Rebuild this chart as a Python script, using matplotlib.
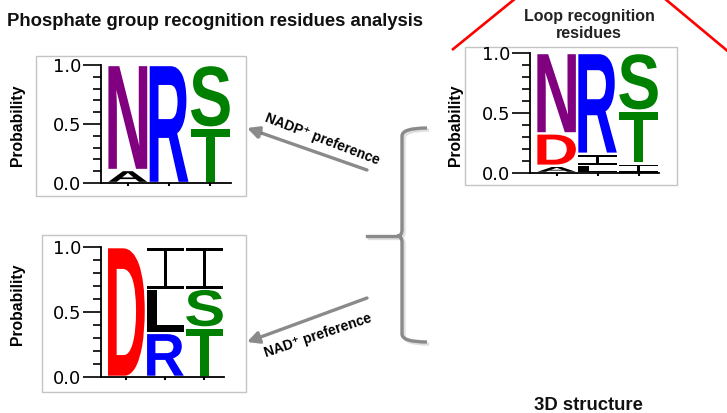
import numpy as np
import matplotlib
matplotlib.use("Agg")
import matplotlib.pyplot as plt
import matplotlib.patheffects as pe
from matplotlib.textpath import TextPath
from matplotlib.font_manager import FontProperties
from matplotlib.patches import PathPatch, Rectangle, FancyArrowPatch
from matplotlib.path import Path
from matplotlib.transforms import Affine2D

W, H = 727, 413

# residue positions and per-position probabilities (stacked bottom -> top)
positions = [1, 2, 3]

nadp_letters = [["A", "N"], ["R"], ["T", "S"]]
nadp_probs = [[0.11, 0.89], [1.0], [0.47, 0.53]]

nad_letters = [["D"], ["R", "L", "I"], ["T", "S", "I"]]
nad_probs = [[1.0], [0.34, 0.34, 0.32], [0.38, 0.30, 0.32]]

loop_letters = [["A", "D", "N"], ["L", "I", "R"], ["I", "T", "S"]]
loop_probs = [[0.06, 0.27, 0.67], [0.07, 0.09, 0.84], [0.08, 0.44, 0.48]]

ytick_values = [0.0, 0.5, 1.0]
ytick_labels = ["0.0", "0.5", "1.0"]

residue_colors = {
    "N": "#800080", "R": "#0000ff", "S": "#008000", "T": "#008000",
    "D": "#ff0000", "A": "#000000", "L": "#000000", "I": "#000000",
}

plt.rcParams["font.family"] = ["DejaVu Sans"]
bold = dict(family=["Liberation Sans", "DejaVu Sans"], weight="bold")
letter_font = FontProperties(family="Liberation Sans", weight="bold")


def px_axes(fig, x0, y0, x1, y1):
    return fig.add_axes([x0 / W, 1 - y1 / H, (x1 - x0) / W, (y1 - y0) / H])


def glyph(ch, x0, y0, w, h):
    tp = TextPath((0, 0), ch, size=1, prop=letter_font)
    bb = tp.get_extents()
    tr = (Affine2D().translate(-bb.x0, -bb.y0)
          .scale(w / bb.width, h / bb.height).translate(x0, y0))
    return tr.transform_path(tp)


def i_beam(x0, y0, w, h):
    # serif capital I: thin stem between two full-width bars
    bar = max(0.07 * h, 0.015)
    s = 0.05 * w
    xc = x0 + w / 2
    verts = [(x0, y0), (x0 + w, y0), (x0 + w, y0 + bar), (xc + s, y0 + bar),
             (xc + s, y0 + h - bar), (x0 + w, y0 + h - bar), (x0 + w, y0 + h),
             (x0, y0 + h), (x0, y0 + h - bar), (xc - s, y0 + h - bar),
             (xc - s, y0 + bar), (x0, y0 + bar), (x0, y0)]
    return Path(verts, closed=True)


def draw_logo(ax, letters, probs, pad=0.01, width=0.94):
    for x, col_l, col_p in zip(positions, letters, probs):
        base = 0.0
        for ch, p in zip(col_l, col_p):
            y0, h = base + pad, p - 2 * pad
            if ch == "I":
                path = i_beam(x - width / 2, base, width, p - pad)
            else:
                path = glyph(ch, x - width / 2, y0, width, h)
            ax.add_patch(PathPatch(path, fc=residue_colors[ch], ec="none", zorder=3))
            base += p

    ax.set_xlim(0.35, 3.5)
    ax.set_ylim(0, 1)
    ax.patch.set_alpha(0)
    for side in ["top", "right"]:
        ax.spines[side].set_visible(False)
    ax.spines["left"].set_linewidth(1.3)
    ax.spines["bottom"].set_linewidth(1.3)
    ax.set_yticks(ytick_values)
    ax.set_yticklabels(ytick_labels)
    ax.set_yticks(np.arange(0, 1.01, 0.1), minor=True)
    ax.tick_params(axis="y", which="major", length=13, width=1.2, pad=1, labelsize=13)
    ax.tick_params(axis="y", which="minor", length=6, width=1.2)
    ax.set_xticks(positions)
    ax.set_xticklabels([])
    ax.tick_params(axis="x", length=2.5, width=1.5)


fig = plt.figure(figsize=(W / 100, H / 100), dpi=100)

# background layer in pixel units for frames, arrows and labels
bg = fig.add_axes([0, 0, 1, 1])
bg.set_xlim(0, W)
bg.set_ylim(H, 0)
bg.axis("off")

for x0, y0, x1, y1 in [(36, 56, 246, 196), (42, 235, 246, 392), (465, 47, 677, 185)]:
    bg.add_patch(Rectangle((x0, y0), x1 - x0, y1 - y0, fill=False, ec="#c4c4c4", lw=1))

bg.text(7, 21, "Phosphate group recognition residues analysis", fontsize=13.3,
        va="center", ha="left", color="#111111", **bold)
bg.text(589, 25, "Loop recognition\nresidues", fontsize=11.5, ha="center", va="center",
        linespacing=1.2, color="#222222", **bold)
bg.text(588, 405, "3D structure", fontsize=13.3, ha="center", va="center",
        color="#111111", **bold)

for x, y in [(18, 125), (18, 304), (455, 125)]:
    bg.text(x, y, "Probability", rotation=90, fontsize=11.3, ha="center", va="center", **bold)

# red roof lines
bg.plot([452, 516], [50, -2], color="#ff0000", lw=1.9, solid_capstyle="butt")
bg.plot([664, 730], [-2, 53], color="#ff0000", lw=1.9, solid_capstyle="butt")

shadow = [pe.SimpleLineShadow(offset=(1.5, -1.5), alpha=0.25, shadow_color="gray"), pe.Normal()]
arrow_kw = dict(arrowstyle="-|>,head_length=0.5,head_width=0.25", mutation_scale=14,
                lw=2.4, color="#8a8a8a", shrinkA=0, shrinkB=0,
                path_effects=[pe.SimplePatchShadow(offset=(1.5, -1.5), alpha=0.25), pe.Normal()])
bg.add_patch(FancyArrowPatch((367, 170), (247, 128), **arrow_kw))
bg.add_patch(FancyArrowPatch((367, 298), (247, 342), **arrow_kw))

bg.text(322, 139, "NADP\u207a preference", rotation=-21, fontsize=10,
        ha="center", va="center", rotation_mode="anchor", **bold)
bg.text(318, 336, "NAD\u207a preference", rotation=18.5, fontsize=10,
        ha="center", va="center", rotation_mode="anchor", **bold)

# curly bracket
brace = Path(
    [(427, 128), (402, 128), (402, 136), (402, 230), (402, 236), (397, 236),
     (402, 236), (402, 242), (402, 334), (402, 342), (427, 342)],
    [Path.MOVETO, Path.CURVE3, Path.CURVE3, Path.LINETO, Path.CURVE3, Path.CURVE3,
     Path.CURVE3, Path.CURVE3, Path.LINETO, Path.CURVE3, Path.CURVE3])
bg.add_patch(PathPatch(brace, fill=False, ec="#8a8a8a", lw=2.4, path_effects=shadow))
bg.plot([367, 398], [236, 236], color="#8a8a8a", lw=2.4, path_effects=shadow)

ax1 = px_axes(fig, 101, 65, 231, 183)
draw_logo(ax1, nadp_letters, nadp_probs)

ax2 = px_axes(fig, 101, 247, 224, 377)
draw_logo(ax2, nad_letters, nad_probs)

ax3 = px_axes(fig, 530, 53, 659, 173)
draw_logo(ax3, loop_letters, loop_probs)

fig.savefig("out.png", dpi=100)
